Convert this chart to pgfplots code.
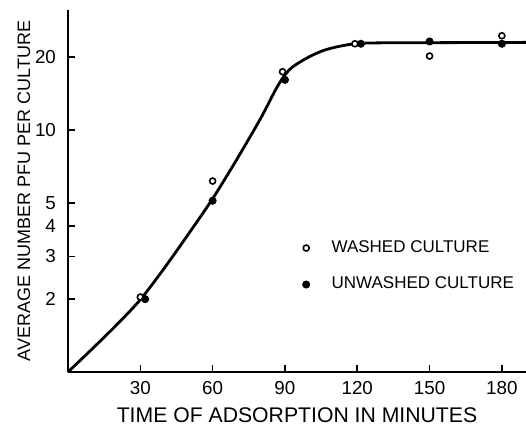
\documentclass[border=0pt]{standalone}
\usepackage{pgfplots}
\pgfplotsset{compat=1.18}
\usepackage{fontspec}
\setmainfont{Liberation Sans}
\begin{document}
\begin{tikzpicture}
\begin{axis}[
  at={(0,0)}, anchor=south west,
  scale only axis, width=229pt, height=181pt,
  xmin=0, xmax=190, ymode=log, ymin=1, ymax=31.3,
  axis lines=left, axis line style={-, line width=1pt},
  xtick={30,60,90,120,150,180},
  xticklabels={30,60,90,120,150,180},
  ytick={2,3,4,5,10,20},
  yticklabels={2,3,4,5,10,20},
  yminorticks=false, xminorticks=false,
  tick align=inside, major tick length=3.5pt,
  tick style={line width=0.8pt, black},
  /pgf/number format/assume math mode=true,
  ticklabel style={font=\fontsize{9.4}{11}\selectfont},
  yticklabel style={xshift=-2.5pt},
  xticklabel style={yshift=-1pt},
  xlabel={TIME OF ADSORPTION IN MINUTES},
  ylabel={AVERAGE NUMBER PFU PER CULTURE},
  xlabel style={at={(axis description cs:0.5,-0.118)}, anchor=center, font=\fontsize{10.6}{12}\selectfont},
  ylabel style={at={(axis description cs:-0.096,0.5)}, anchor=center, rotate=0, font=\fontsize{9.0}{11}\selectfont},
  legend image code/.code={\path (0pt,0pt) (14pt,0pt); \draw[#1] plot coordinates {(3.5pt,0pt)};},
  legend style={draw=none, fill=none, at={(rel axis cs:0.49,0.292)}, anchor=west,
    font=\fontsize{8.5}{10.5}\selectfont, row sep=6.8pt},
  legend cell align=left,
  clip=false,
]
\addplot[smooth, tension=0.5, line width=1.4pt, black, forget plot] coordinates {
  (0,1) (10,1.245) (20,1.56) (30,1.99) (40,2.69) (50,3.72) (60,5.2) (70,7.55)
  (80,11.2) (87,15.2) (92,17.8) (99,19.8) (106,21.3) (113,22.2) (120,22.75)
  (130,22.9) (160,22.95) (190,23.0)
};
\addplot[only marks, mark=*, mark size=1.5pt, mark options={fill=white, draw=black, line width=0.8pt}] coordinates {
  (30,2.04) (60,6.15) (89,17.4) (119,22.7) (150,20.2) (180,24.5)
};
\addlegendentry{WASHED CULTURE}
\addplot[only marks, mark=*, mark size=1.8pt, mark options={fill=black, draw=black}] coordinates {
  (32,2.0) (60,5.1) (90,16.1) (121.5,22.7) (150,23.2) (180,22.7)
};
\addlegendentry{UNWASHED CULTURE}
\end{axis}
\pgfresetboundingbox
\useasboundingbox (-34pt,-31pt) rectangle (229pt,186pt);
\end{tikzpicture}
\end{document}
